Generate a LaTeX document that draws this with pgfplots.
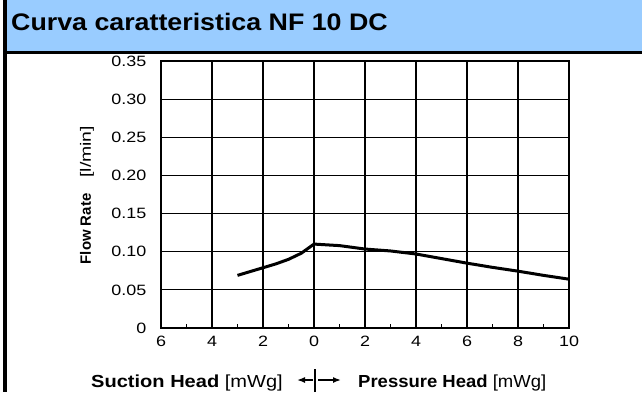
\documentclass[border=0pt]{standalone}
\usepackage{pgfplots}
\pgfplotsset{compat=1.18}
\usepackage{fontspec}
\setmainfont{Liberation Sans}
\usetikzlibrary{arrows.meta}
\definecolor{titleblue}{RGB}{153,204,255}
\begin{document}
\begin{tikzpicture}[x=1bp,y=1bp]
\useasboundingbox (0,0) rectangle (642,392);
\fill[white] (0,0) rectangle (642,392);
\fill[titleblue] (6.7,341.3) rectangle (642,392);
\fill[black] (3.3,338) rectangle (642,341.3);
\fill[black] (3.3,0) rectangle (6.7,392);
\node[anchor=base west, inner sep=0pt, xscale=1.12, font=\fontsize{24}{28}\selectfont\bfseries] at (11,362) {Curva caratteristica NF 10 DC};
\begin{axis}[
  at={(161bp,64bp)}, anchor=south west,
  scale only axis, width=408bp, height=267bp,
  xmin=-6, xmax=10, ymin=0, ymax=0.35,
  xtick={-6,-4,-2,0,2,4,6,8,10},
  xticklabels={6,4,2,0,2,4,6,8,10},
  ytick={0,0.05,0.10,0.15,0.20,0.25,0.30,0.35},
  yticklabels={0,0.05,0.10,0.15,0.20,0.25,0.30,0.35},
  minor xtick={-5,-3,-1,1,3,5,7,9},
  tick align=inside,
  major tick length=0pt,
  minor tick length=4bp,
  xtick pos=bottom, ytick pos=left,
  minor tick style={black, line width=1bp},
  grid=major,
  major grid style={black, line width=1.2bp},
  axis line style={black, line width=1.5bp},
  ticklabel style={font=\fontsize{15}{17}\selectfont, inner sep=0pt, xscale=1.2},
  xticklabel style={anchor=north, yshift=-8bp},
  yticklabel style={anchor=east, xshift=-12bp},
  clip=false,
]
\addplot[black, line width=3bp, line join=round] coordinates {
  (-3,0.069) (-2.5,0.074) (-2,0.079) (-1.5,0.084) (-1,0.090) (-0.5,0.098) (0,0.110)
  (1,0.108) (2,0.1035) (3,0.101) (4,0.097) (5,0.091) (6,0.085) (7,0.0795)
  (8,0.0745) (9,0.069) (10,0.064)
};
\end{axis}
\node[rotate=90, inner sep=0pt] at (87,197) {{\fontsize{15}{18}\selectfont\bfseries Flow Rate}\hspace{16bp}{\fontsize{15}{18}\selectfont\scalebox{1.3}[1]{[l/min]}}};
\node[anchor=base east, inner sep=0pt, xscale=1.15, font=\fontsize{17.5}{20}\selectfont] at (283,4.5) {\textbf{Suction Head} [mWg]};
\node[anchor=base west, inner sep=0pt, xscale=1.06, font=\fontsize{17.5}{20}\selectfont] at (358,4.5) {\textbf{Pressure Head} [mWg]};
\draw[black, line width=1.5bp, -{Latex[length=8bp,width=6bp]}] (313,12) -- (297,12);
\draw[black, line width=1.5bp, -{Latex[length=8bp,width=6bp]}] (318,12) -- (341,12);
\draw[black, line width=1.5bp] (315,0) -- (315,23);
\end{tikzpicture}
\end{document}
